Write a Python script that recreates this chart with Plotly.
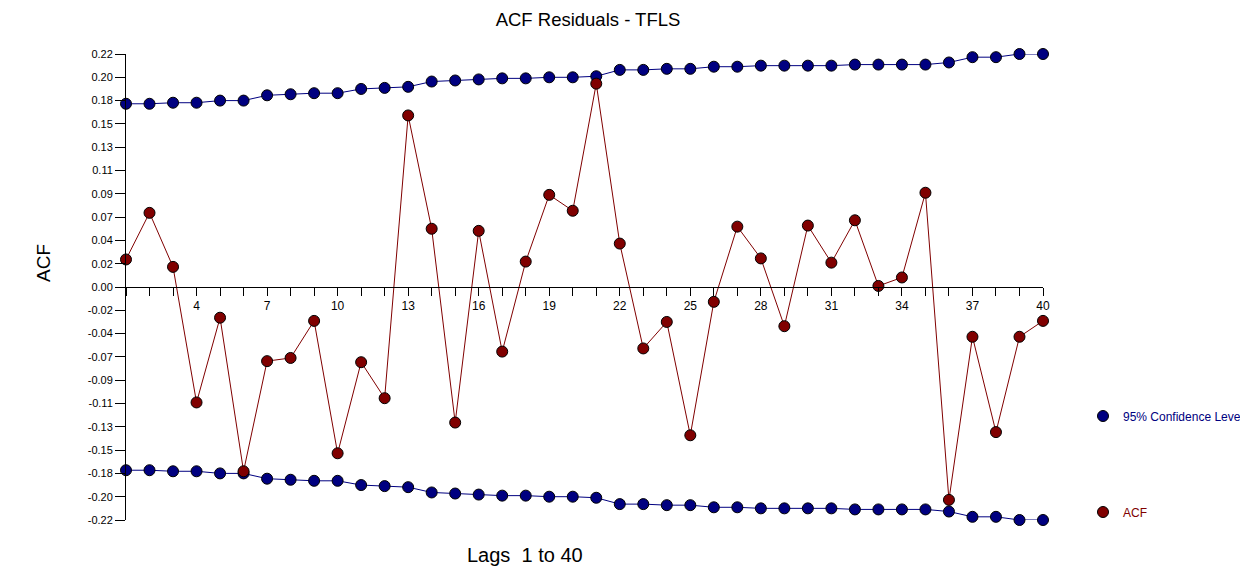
import plotly.graph_objects as go

lags = list(range(1, 41))

conf_upper = [0.173, 0.173, 0.174, 0.174, 0.176, 0.176, 0.181, 0.182, 0.183, 0.183,
              0.187, 0.188, 0.189, 0.194, 0.195, 0.196, 0.197, 0.197, 0.198, 0.198,
              0.199, 0.205, 0.205, 0.206, 0.206, 0.208, 0.208, 0.209, 0.209, 0.209,
              0.209, 0.210, 0.210, 0.210, 0.210, 0.212, 0.217, 0.217, 0.220, 0.220]
conf_lower = [-v for v in conf_upper]

acf = [0.026, 0.070, 0.019, -0.109, -0.029, -0.174, -0.070, -0.067, -0.032, -0.157,
       -0.071, -0.105, 0.162, 0.055, -0.128, 0.053, -0.061, 0.024, 0.087, 0.072,
       0.192, 0.041, -0.058, -0.033, -0.140, -0.014, 0.057, 0.027, -0.037, 0.058,
       0.023, 0.063, 0.001, 0.009, 0.089, -0.201, -0.047, -0.137, -0.047, -0.032]

y_tickvals = [-0.22, -0.198, -0.176, -0.154, -0.132, -0.11, -0.088, -0.066, -0.044, -0.022, 0.0,
              0.022, 0.044, 0.066, 0.088, 0.11, 0.132, 0.154, 0.176, 0.198, 0.22]
y_ticktext = ["-0.22", "-0.20", "-0.18", "-0.15", "-0.13", "-0.11", "-0.09", "-0.07", "-0.04", "-0.02", "0.00",
              "0.02", "0.04", "0.07", "0.09", "0.11", "0.13", "0.15", "0.18", "0.20", "0.22"]
x_labeled = [4, 7, 10, 13, 16, 19, 22, 25, 28, 31, 34, 37, 40]
x_ticktext = [str(l) if l in x_labeled else "" for l in lags]

NAVY = "#000080"
DRED = "#800000"
FONT = "Liberation Sans, Arial, sans-serif"

fig = go.Figure()

def add_series(y, color, name, legend, showlegend):
    fig.add_trace(go.Scatter(
        x=lags, y=y, mode="lines", line=dict(color=color, width=1),
        showlegend=False, hoverinfo="skip", cliponaxis=False))
    fig.add_trace(go.Scatter(
        x=lags, y=y, mode="markers", name=name,
        marker=dict(color=color, size=11, line=dict(color="black", width=1)),
        cliponaxis=False, showlegend=showlegend, legend=legend))

add_series(conf_upper, NAVY, "95% Confidence Leve", "legend", True)
add_series(conf_lower, NAVY, "95% Confidence Leve", "legend", False)
add_series(acf, DRED, "ACF", "legend2", True)

fig.update_layout(
    width=1240, height=580,
    margin=dict(l=126, r=197, t=54, b=60, autoexpand=False),
    paper_bgcolor="white", plot_bgcolor="white",
    font=dict(family=FONT, size=11, color="black"),
    title=dict(text="ACF Residuals - TFLS", x=(588 / 1240), xanchor="center", y=0.967, yanchor="middle",
               font=dict(size=18.5, family=FONT, color="black")),
    xaxis=dict(range=[1, 40], anchor="free", position=0.5, showgrid=False, zeroline=False,
               showline=True, linecolor="black", linewidth=1,
               tickmode="array", tickvals=lags, ticktext=x_ticktext,
               ticks="outside", ticklen=8, tickcolor="black", tickwidth=1,
               tickfont=dict(size=12, color="black")),
    yaxis=dict(range=[-0.22, 0.22], showgrid=False, zeroline=False,
               showline=True, linecolor="black", linewidth=1,
               tickmode="array", tickvals=y_tickvals, ticktext=y_ticktext,
               ticks="outside", ticklen=10, tickcolor="black", tickwidth=1,
               tickfont=dict(size=11, color="black")),
    legend=dict(xref="container", yref="container", x=1083 / 1240, y=1 - 416 / 580,
                xanchor="left", yanchor="middle",
                font=dict(size=12, color=NAVY), bgcolor="rgba(0,0,0,0)", itemwidth=30),
    legend2=dict(xref="container", yref="container", x=1083 / 1240, y=1 - 512 / 580,
                 xanchor="left", yanchor="middle",
                 font=dict(size=12, color=DRED), bgcolor="rgba(0,0,0,0)", itemwidth=30),
    annotations=[
        dict(text="Lags\u00a0 1 to 40", xref="paper", yref="paper", x=(525 - 126) / 917, y=-35 / 466,
             xanchor="center", yanchor="middle", showarrow=False, font=dict(size=20, family=FONT, color="black")),
        dict(text="ACF", xref="paper", yref="paper", x=(43 - 126) / 917, y=(520 - 263) / 466,
             xanchor="center", yanchor="middle", textangle=-90, showarrow=False,
             font=dict(size=19, family=FONT, color="black")),
    ],
)

fig.write_html("out.html")
